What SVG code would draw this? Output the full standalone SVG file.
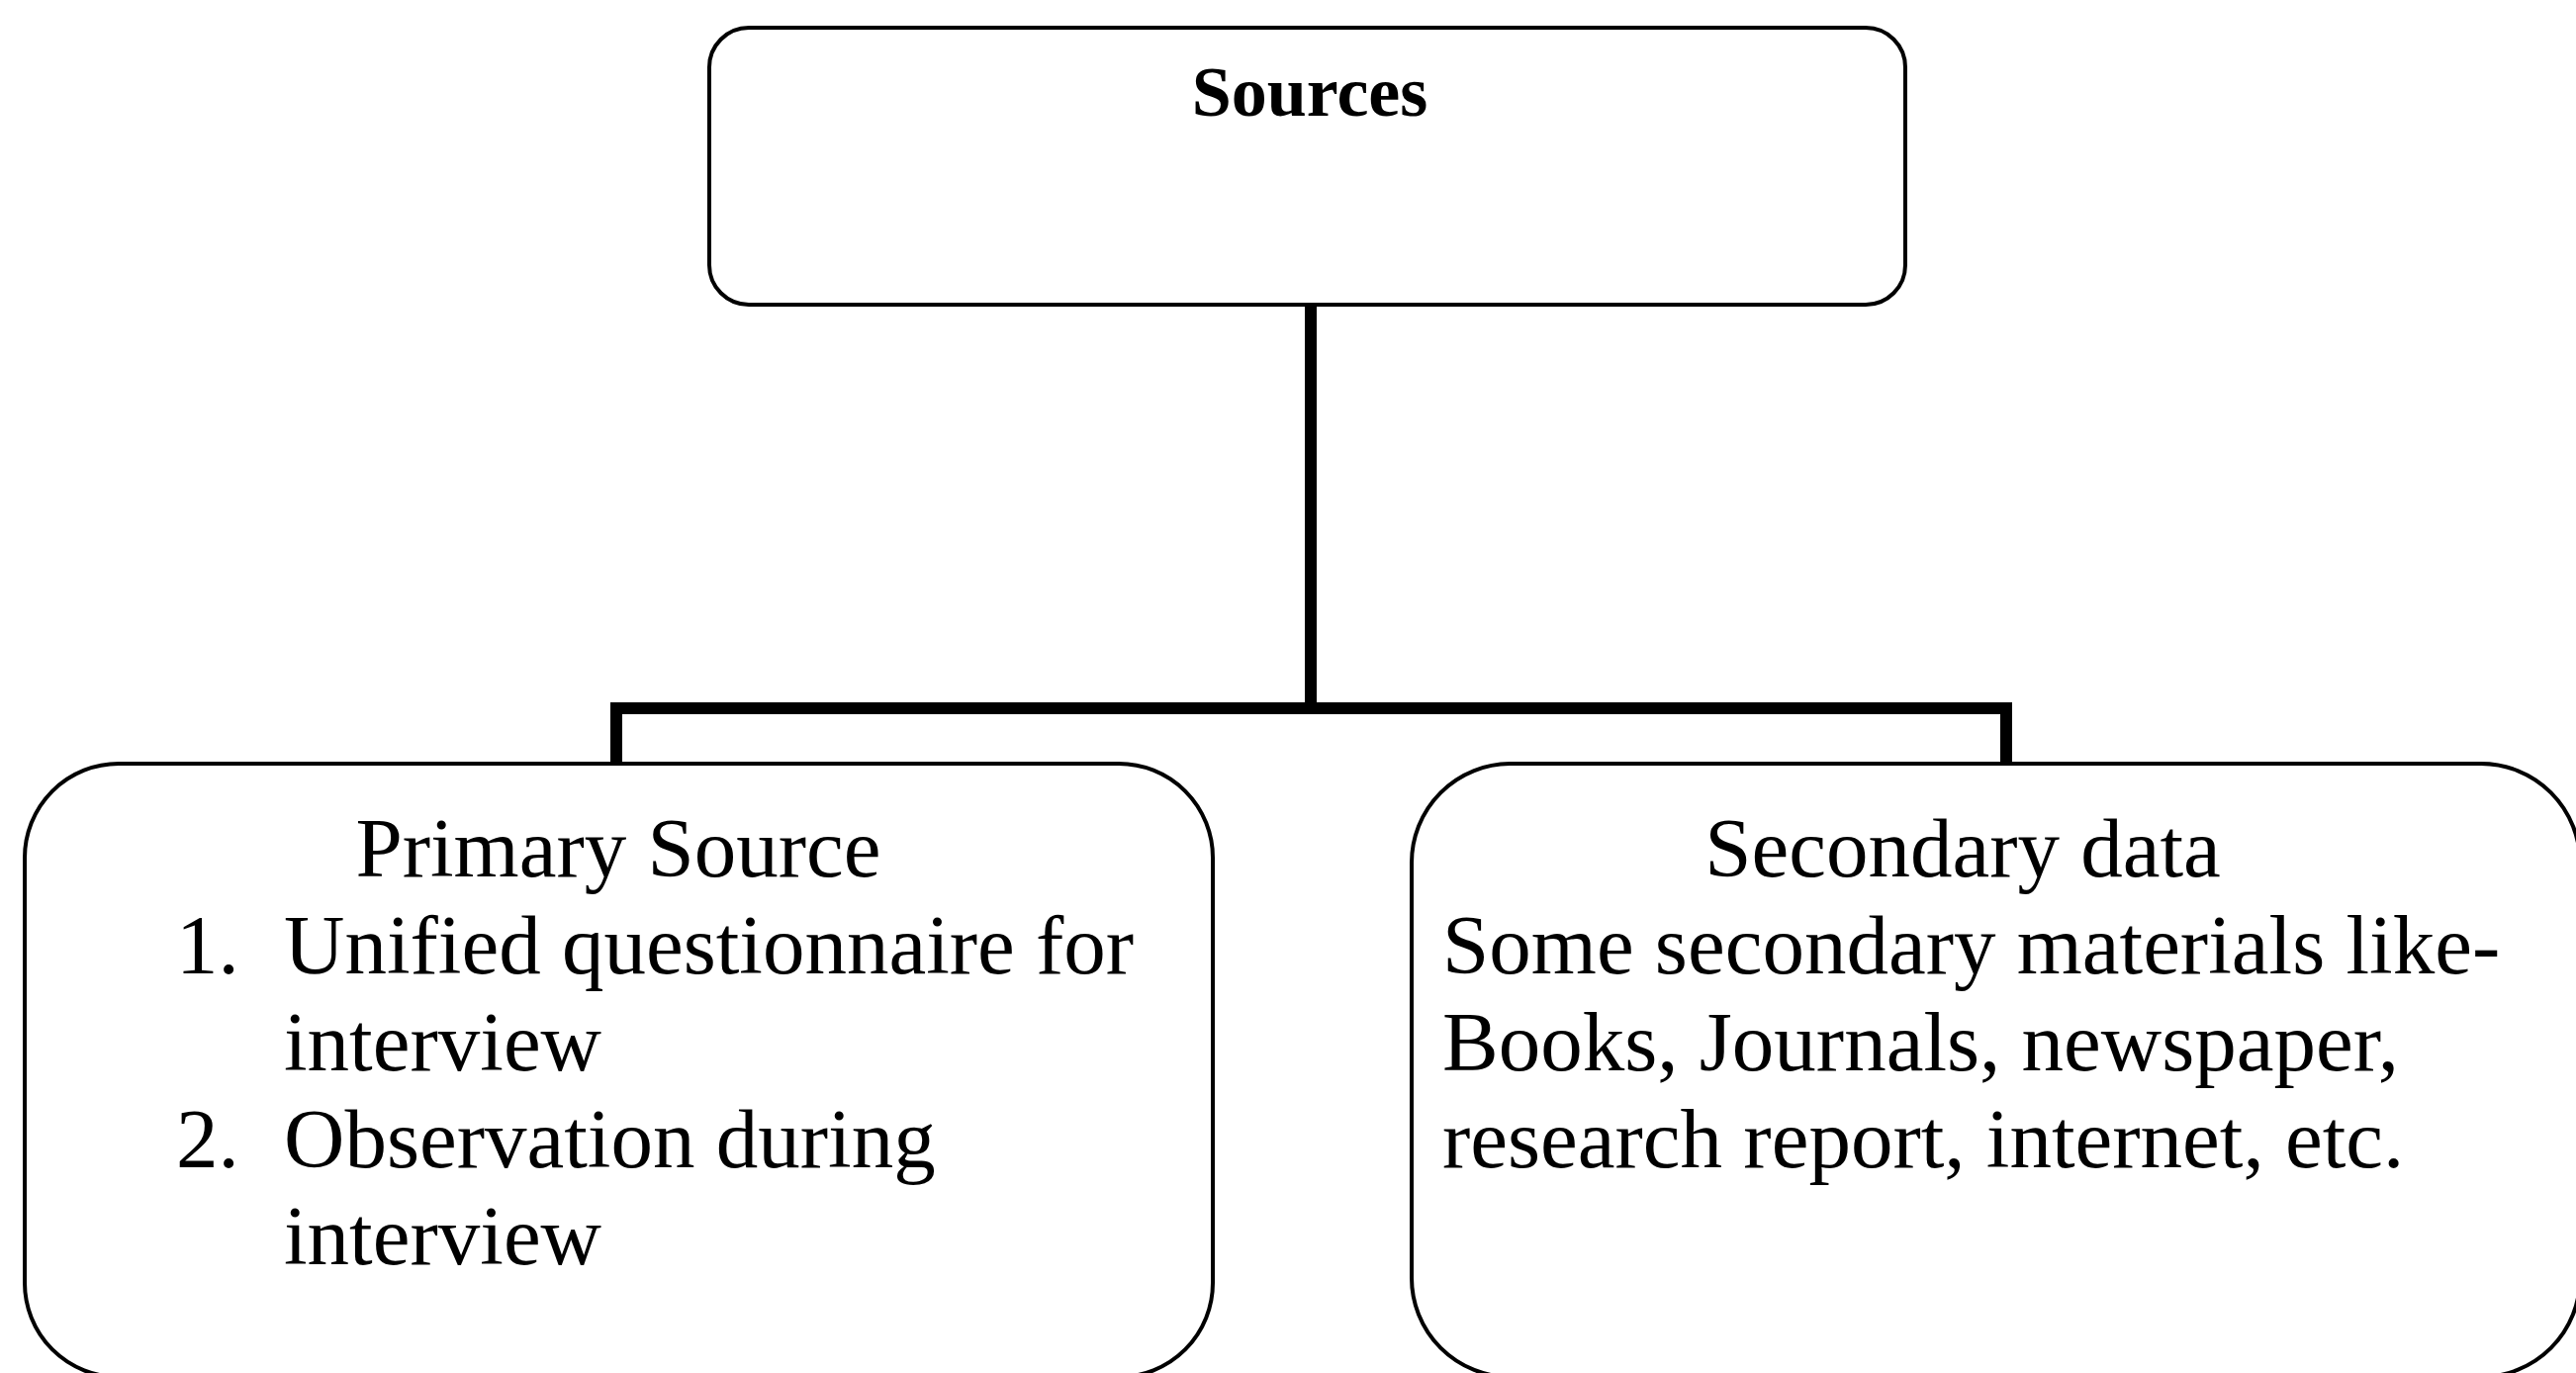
<svg xmlns="http://www.w3.org/2000/svg" width="2604" height="1388" viewBox="0 0 2604 1388">
<style>
.box{fill:#fff;stroke:#000;stroke-width:4}
.conn{fill:none;stroke:#000;stroke-width:12;stroke-linejoin:miter;stroke-linecap:square}
text{font-family:"Liberation Serif","Times New Roman",serif;fill:#000}
.t{font-size:85px}
.b{font-size:72px;font-weight:bold}
</style>
<rect width="2604" height="1388" fill="#fff"/>
<g id="connectors">
<path class="conn" d="M1325 310 V716"/>
<path class="conn" d="M623 770 V716 H2028 V770"/>
</g>
<g id="sources">
<rect class="box" x="717" y="28" width="1209" height="280" rx="40" ry="40"/>
<text class="b" x="1324" y="117" text-anchor="middle">Sources</text>
</g>
<g id="primary">
<rect class="box" x="25" y="772" width="1201" height="620" rx="95" ry="95"/>
<text class="t" x="625" y="886" text-anchor="middle">Primary Source</text>
<text class="t" x="178" y="984">1.</text>
<text class="t" x="287" y="984">Unified questionnaire for</text>
<text class="t" x="287" y="1082">interview</text>
<text class="t" x="178" y="1180">2.</text>
<text class="t" x="287" y="1180">Observation during</text>
<text class="t" x="287" y="1278">interview</text>
</g>
<g id="secondary">
<rect class="box" x="1427" y="772" width="1181" height="620" rx="100" ry="100"/>
<text class="t" x="1984" y="886" text-anchor="middle">Secondary data</text>
<text class="t" x="1458" y="984">Some secondary materials like-</text>
<text class="t" x="1458" y="1082">Books, Journals, newspaper,</text>
<text class="t" x="1458" y="1180">research report, internet, etc.</text>
</g>
</svg>
